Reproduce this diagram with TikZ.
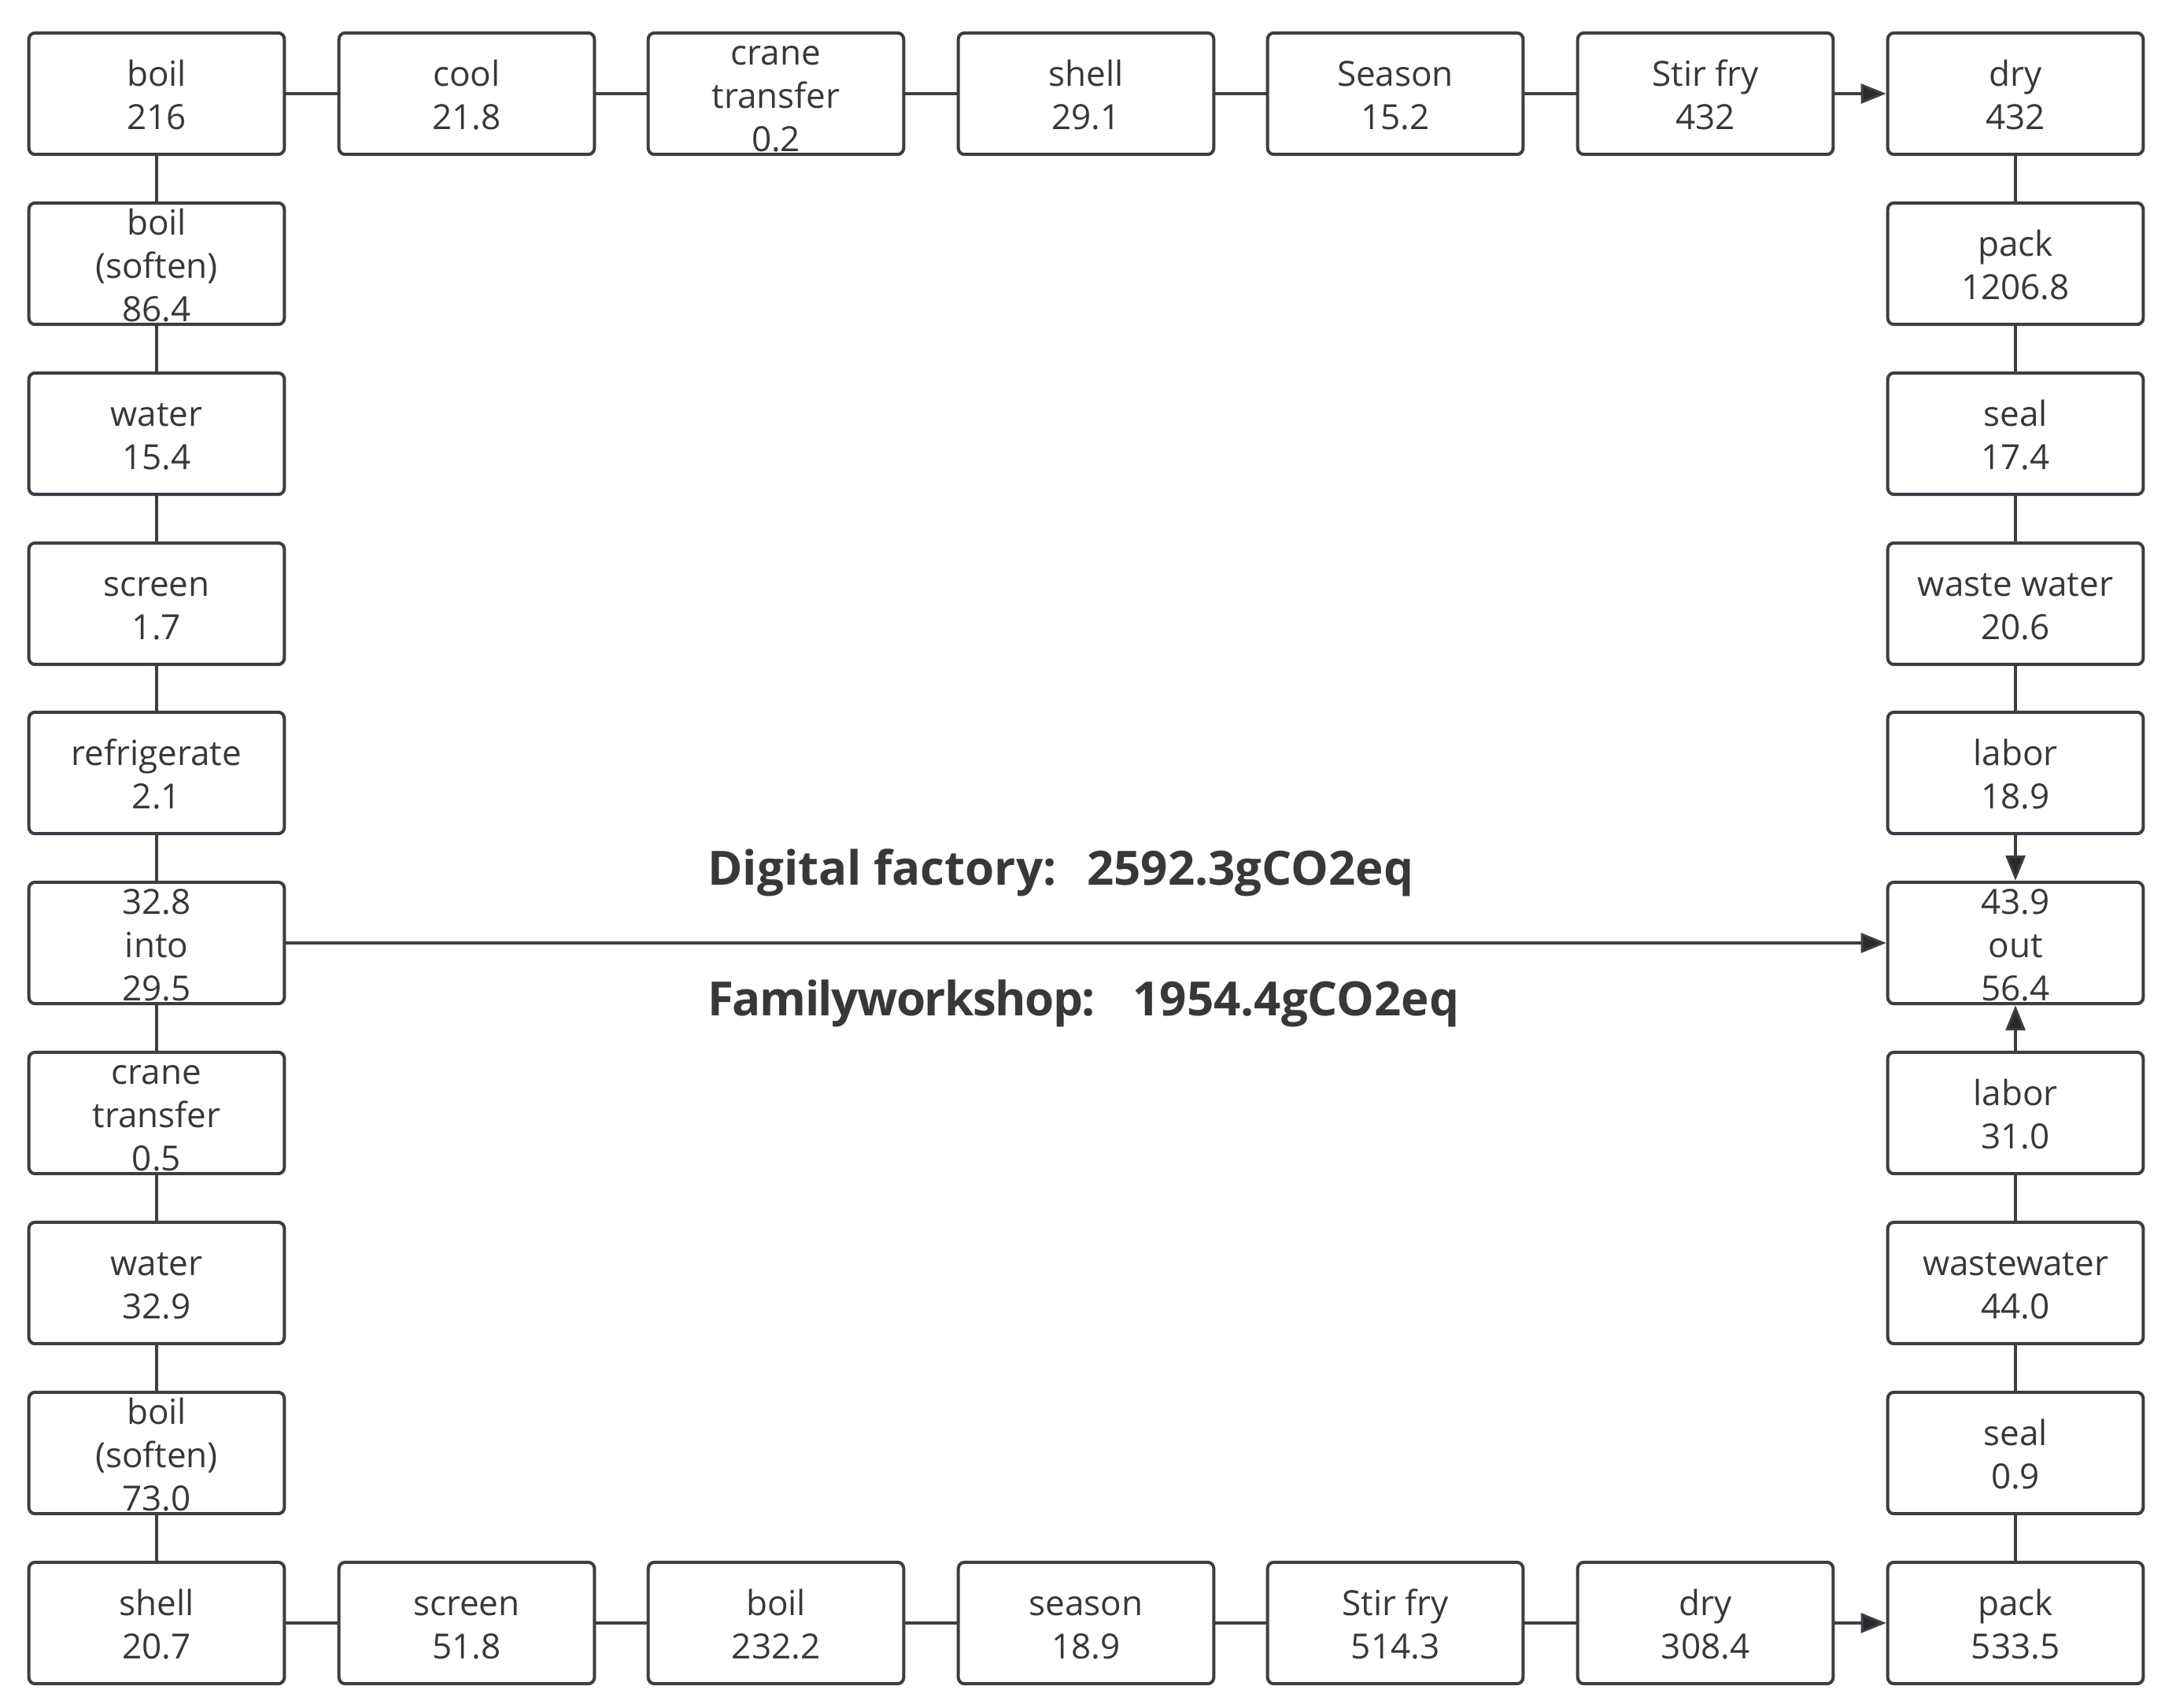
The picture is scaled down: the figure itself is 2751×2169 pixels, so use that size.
\documentclass[tikz,border=0pt]{standalone}
\usepackage{fontspec}
\setmainfont{Open Sans}
\usetikzlibrary{arrows.meta}
\definecolor{linec}{HTML}{3B3E43}
\definecolor{txt}{HTML}{383838}
\definecolor{headc}{HTML}{2A2A2A}
\newcommand\topst{\rule{0pt}{20pt}}
\newcommand\botst{\rule[-2pt]{0pt}{2pt}}
\begin{document}
\begin{tikzpicture}[x=0.5pt,y=-0.5pt,
  box/.style={draw=linec, line width=2pt, rounded corners=4pt, fill=white,
    minimum width=162.3pt, minimum height=77.2pt, inner sep=0pt,
    align=center, font=\fontsize{22}{27.5}\selectfont, text=txt},
  conn/.style={draw=linec, line width=1.6pt},
  arr/.style={conn, -{Triangle[length=16pt,width=12.5pt,fill=headc]}},
  title/.style={anchor=west, font=\bfseries\fontsize{30}{36}\selectfont, text=txt, inner sep=0pt}
]
\useasboundingbox[fill=white] (0,0) rectangle (2751,2169);
% top row
\node[box] (t1) at (199,119) {\topst boil\\216\botst};
\node[box] (t2) at (593,119) {\topst cool\\21.8\botst};
\node[box] (t3) at (986,119) {\topst crane\\transfer\\0.2\botst};
\node[box] (t4) at (1380,119) {\topst shell\\29.1\botst};
\node[box] (t5) at (1773,119) {\topst Season\\15.2\botst};
\node[box] (t6) at (2167,119) {\topst Stir fry\\432\botst};
\node[box] (t7) at (2561,119) {\topst dry\\432\botst};
% left column
\node[box] (l1) at (199,335) {\topst boil\\(soften)\\86.4\botst};
\node[box] (l2) at (199,551) {\topst water\\15.4\botst};
\node[box] (l3) at (199,767) {\topst screen\\1.7\botst};
\node[box] (l4) at (199,982) {\topst refrigerate\\2.1\botst};
\node[box] (l5) at (199,1198) {\topst 32.8\\into\\29.5\botst};
\node[box] (l6) at (199,1414) {\topst crane\\transfer\\0.5\botst};
\node[box] (l7) at (199,1630) {\topst water\\32.9\botst};
\node[box] (l8) at (199,1846) {\topst boil\\(soften)\\73.0\botst};
% bottom row
\node[box] (b1) at (199,2062) {\topst shell\\20.7\botst};
\node[box] (b2) at (593,2062) {\topst screen\\51.8\botst};
\node[box] (b3) at (986,2062) {\topst boil\\232.2\botst};
\node[box] (b4) at (1380,2062) {\topst season\\18.9\botst};
\node[box] (b5) at (1773,2062) {\topst Stir fry\\514.3\botst};
\node[box] (b6) at (2167,2062) {\topst dry\\308.4\botst};
\node[box] (b7) at (2561,2062) {\topst pack\\533.5\botst};
% right column
\node[box] (r1) at (2561,335) {\topst pack\\1206.8\botst};
\node[box] (r2) at (2561,551) {\topst seal\\17.4\botst};
\node[box] (r3) at (2561,767) {\topst waste water\\20.6\botst};
\node[box] (r4) at (2561,982) {\topst labor\\18.9\botst};
\node[box] (r5) at (2561,1198) {\topst 43.9\\out\\56.4\botst};
\node[box] (r6) at (2561,1414) {\topst labor\\31.0\botst};
\node[box] (r7) at (2561,1630) {\topst wastewater\\44.0\botst};
\node[box] (r8) at (2561,1846) {\topst seal\\0.9\botst};
% titles
\node[title] (ttl1) at (899,1109) {Digital factory:\hspace{19.5pt}2592.3gCO2eq};
\node[title] (ttl2) at (899,1275) {{\addfontfeature{LetterSpace=-2.5}Familyworkshop:}\hspace{24pt}1954.4gCO2eq};
% connectors
\draw[conn] (t1) -- (t2);
\draw[conn] (t2) -- (t3);
\draw[conn] (t3) -- (t4);
\draw[conn] (t4) -- (t5);
\draw[conn] (t5) -- (t6);
\draw[arr] (t6) -- (t7);
\draw[conn] (t1) -- (l1);
\draw[conn] (l1) -- (l2);
\draw[conn] (l2) -- (l3);
\draw[conn] (l3) -- (l4);
\draw[conn] (l4) -- (l5);
\draw[conn] (l5) -- (l6);
\draw[conn] (l6) -- (l7);
\draw[conn] (l7) -- (l8);
\draw[conn] (l8) -- (b1);
\draw[conn] (b1) -- (b2);
\draw[conn] (b2) -- (b3);
\draw[conn] (b3) -- (b4);
\draw[conn] (b4) -- (b5);
\draw[conn] (b5) -- (b6);
\draw[arr] (b6) -- (b7);
\draw[conn] (t7) -- (r1);
\draw[conn] (r1) -- (r2);
\draw[conn] (r2) -- (r3);
\draw[conn] (r3) -- (r4);
\draw[arr] (r4) -- (r5);
\draw[conn] (b7) -- (r8);
\draw[conn] (r8) -- (r7);
\draw[conn] (r7) -- (r6);
\draw[arr] (r6) -- (r5);
\draw[arr] (l5) -- (r5);
\end{tikzpicture}
\end{document}
